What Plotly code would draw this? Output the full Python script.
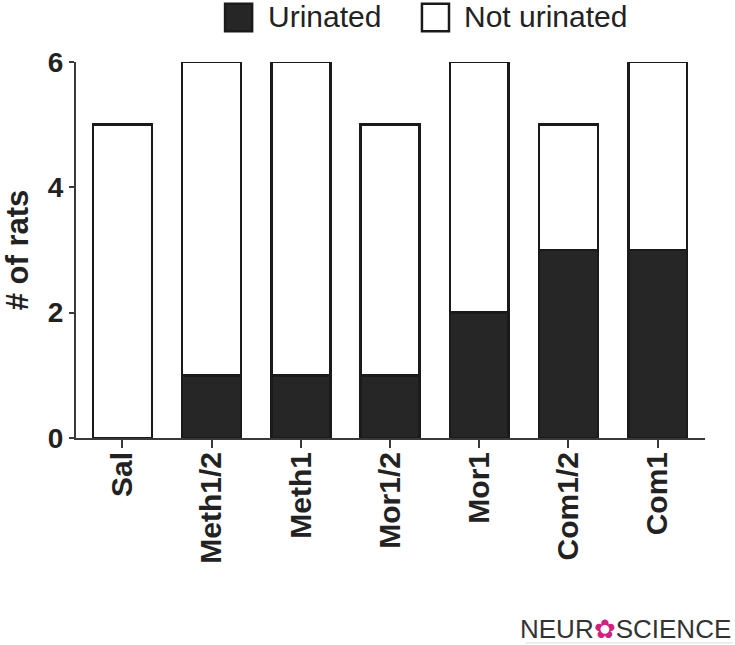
import plotly.graph_objects as go

categories = ["Sal", "Meth1/2", "Meth1", "Mor1/2", "Mor1", "Com1/2", "Com1"]
urinated = [0, 1, 1, 1, 2, 3, 3]
not_urinated = [5, 5, 5, 4, 4, 2, 3]
y_ticks = [0, 2, 4, 6]
series_names = ["Urinated", "Not urinated"]
series_colors = ["#262626", "white"]

FONT = "Liberation Sans, Arial, sans-serif"
AX = "#3a3a3a"
EDGE = "#1a1a1a"

fig = go.Figure()
for name, vals, col in zip(series_names, [urinated, not_urinated], series_colors):
    fig.add_trace(go.Bar(x=categories, y=vals, name=name,
                         marker=dict(color=col, line=dict(color=EDGE, width=2.5)),
                         width=0.66, showlegend=False))

fig.update_layout(
    barmode="stack",
    width=735, height=645,
    margin=dict(l=76, r=30, t=62, b=207, autoexpand=False),
    plot_bgcolor="white", paper_bgcolor="white",
    font=dict(family=FONT, color="#222"),
    xaxis=dict(range=[-0.52, 6.53], showline=True, linecolor=AX, linewidth=2,
               ticks="outside", ticklen=8, tickwidth=2, tickcolor=AX,
               tickangle=-90, tickfont=dict(size=30, family=FONT, color="#222", weight="bold"),
               ticklabelstandoff=-8,
               showgrid=False, zeroline=False),
    yaxis=dict(range=[0, 6], tickvals=y_ticks, showline=True, linecolor=AX, linewidth=2,
               ticks="outside", ticklen=5, tickwidth=2, tickcolor=AX,
               tickfont=dict(size=28, family=FONT, color="#222", weight="bold"),
               title=dict(text="# of rats", font=dict(size=31, family=FONT, color="#222", weight="bold"),
                          standoff=20),
               showgrid=False, zeroline=False),
)

# manual legend (large swatches like the reference)
legend_items = [(0.237, 0.280, 0.302), (0.550, 0.593, 0.614)]
for (x0, x1, tx), name, col in zip(legend_items, series_names, series_colors):
    fig.add_shape(type="rect", xref="paper", yref="paper", x0=x0, x1=x1, y0=1.082, y1=1.155,
                  fillcolor=col, line=dict(color=EDGE, width=2.5))
    fig.add_annotation(xref="paper", yref="paper", x=tx, y=1.12, xanchor="left", yanchor="middle",
                       text=name, showarrow=False,
                       font=dict(size=30, family=FONT, color="#222"))

fig.add_annotation(xref="paper", yref="paper", x=(733 - 76) / 629, y=-0.508, xanchor="right", yanchor="middle",
                   text="NEUR<span style='color:#d0237f'>✿</span>SCIENCE", showarrow=False,
                   font=dict(size=26, family=FONT, color="#333"))
fig.add_shape(type="line", xref="paper", yref="paper", x0=(525 - 76) / 629, x1=(733 - 76) / 629,
              y0=-0.545, y1=-0.545, line=dict(color="#dddddd", width=1))

fig.write_html("out.html", config={"displayModeBar": False},
               post_script="document.body.style.margin='0';")
